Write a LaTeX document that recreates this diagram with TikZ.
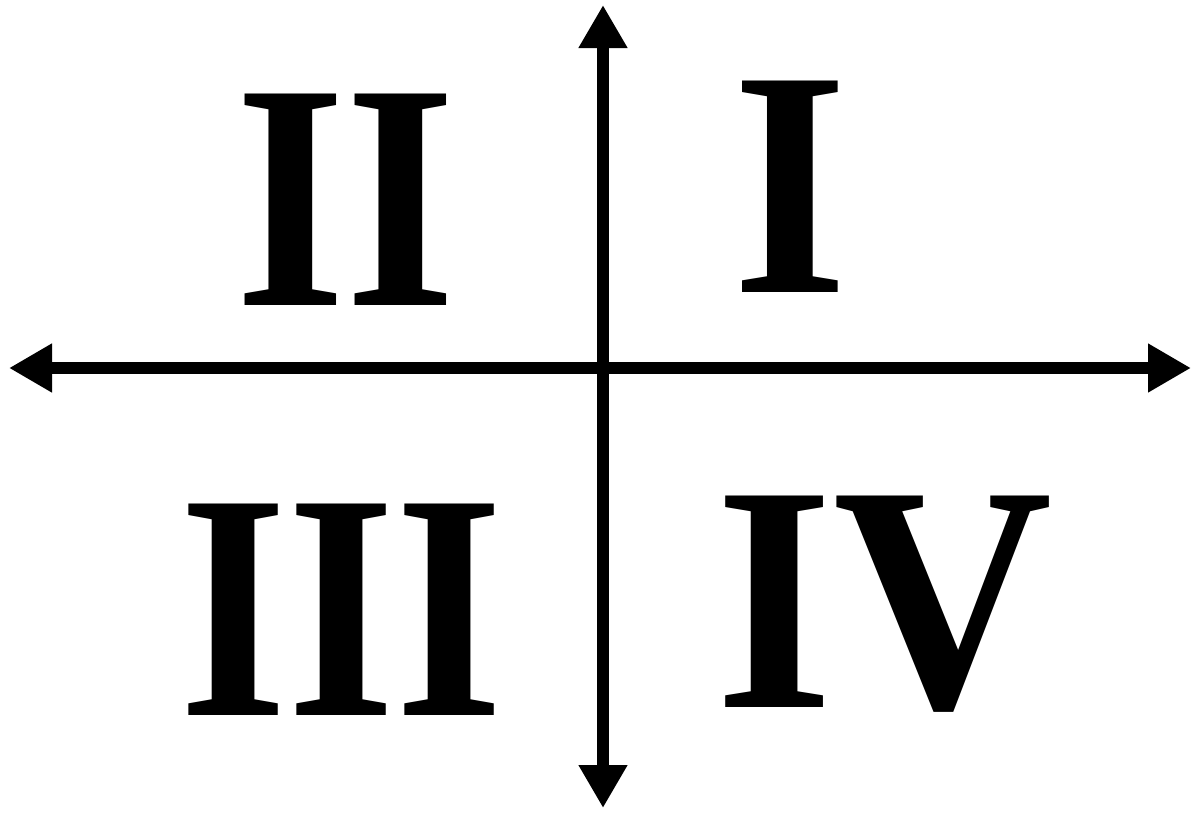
\documentclass[tikz,border=0pt]{standalone}
\usepackage{fontspec}
\setmainfont{Liberation Serif}
\usetikzlibrary{arrows.meta}
\begin{document}
\begin{tikzpicture}[x=1pt,y=-1pt,
  tip/.style={Triangle[length=43pt,width=46pt]},
  axis/.style={line width=11.5pt,{Triangle[length=43pt,width=46pt]}-{Triangle[length=43pt,width=46pt]}},
  numeral/.style={inner sep=0pt,anchor=base,font=\bfseries\fontsize{323}{323}\selectfont}]
\useasboundingbox (0,0) rectangle (1191,812);
\coordinate (L) at (9,368);
\coordinate (R) at (1191,368);
\coordinate (T) at (603,5);
\coordinate (B) at (603,808);
\draw[axis] (L) -- (R);
\draw[axis] (T) -- (B);
\node[numeral,xscale=0.92] (q1) at (790,292) {I};
\node[numeral,xscale=0.88] (q2) at (346,305) {II};
\node[numeral,xscale=0.86] (q3) at (342,715) {III};
\node[numeral,xscale=0.94] (q4) at (884,707) {IV};
\end{tikzpicture}
\end{document}
